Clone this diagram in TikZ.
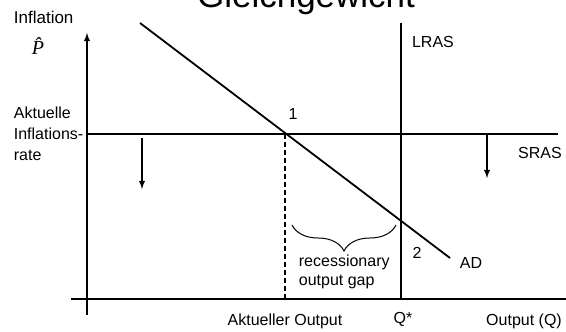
\documentclass[tikz,border=0pt]{standalone}
\usepackage{amsmath,amssymb}
\usepackage{fontspec}
\setmainfont{Liberation Sans}
\newfontfamily\libserif{Liberation Serif}
\usetikzlibrary{decorations.pathreplacing}

\begin{document}
\begin{tikzpicture}[x=1pt,y=1pt,line width=1.8pt,>=latex,
  lbl/.style={font=\fontsize{16}{19}\selectfont,inner sep=0pt}]
  \useasboundingbox (0,0) rectangle (566,332);
  \node[anchor=base,font=\fontsize{35}{40}\selectfont] (title) at (306,324) {Gleichgewicht};
  \draw[->] (87,17) -- (87,299); \draw (71,33) -- (566,33);
  \node[lbl,anchor=west,font=\fontsize{17}{20}\selectfont] (infl) at (13,315) {Inflation};
  \node[inner sep=0pt,anchor=base,font=\libserif\itshape\fontsize{20}{24}\selectfont] (phat) at (38,277) {\^{P}};
  \node[lbl,anchor=west,align=left,font=\fontsize{16}{21}\selectfont] (akt) at (13,198) {Aktuelle\\Inflations-\\rate};
  \draw (87,198) -- (558,198) node[lbl] (sras) at (540,179) {SRAS};
  \draw (401,33) -- (401,309) node[lbl] (lras) at (433,290) {LRAS};
  \draw (140,309) -- (450,74) node[lbl,anchor=west] (ad) at (459,69) {AD};
  \draw[dashed,dash pattern=on 5pt off 3pt] (285,33) -- (285,198);
  \draw[->] (142,194) -- (142,143); \draw[->] (487,198) -- (487,154);
  \draw[line width=1pt,decorate,decoration={brace,amplitude=26pt}] (396,107) -- (292,107);
  \node[lbl] (p1) at (293,218) {1}; \node[lbl] (p2) at (417,79) {2};
  \node[lbl,anchor=west,align=left] (gap) at (298,60) {recessionary\\output gap};
  \node[lbl] (qstar) at (403,13) {Q*}; \node[lbl] (aktout) at (285,11) {Aktueller Output};
  \node[lbl] (outq) at (524,11) {Output (Q)};
\end{tikzpicture}
\end{document}
